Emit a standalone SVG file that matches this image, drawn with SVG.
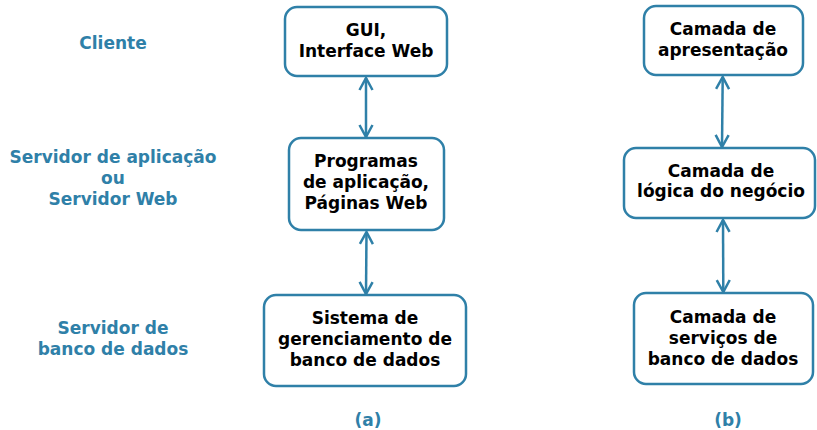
<svg xmlns="http://www.w3.org/2000/svg" width="817" height="430" viewBox="0 0 817 430">
<defs>
<style>
.box{fill:#fff;stroke:#2f80a8;stroke-width:2.5}
.t{font-family:"DejaVu Sans",sans-serif;font-weight:bold;font-size:17px;fill:#000;text-anchor:middle}
.lbl{font-family:"DejaVu Sans",sans-serif;font-weight:bold;font-size:17px;fill:#2f80a8;text-anchor:middle}
.c{stroke:#2f80a8;stroke-width:2.5;fill:none}
</style>
<marker id="ah" viewBox="0 0 14 16" refX="13" refY="8" markerWidth="14" markerHeight="16" markerUnits="userSpaceOnUse" orient="auto-start-reverse">
<path d="M1,1.5 L13,8 L1,14.5" fill="none" stroke="#2f80a8" stroke-width="2.5"/>
</marker>
</defs>
<rect width="817" height="430" fill="#fff"/>
<g id="labels">
<text class="lbl" x="113" y="49">Cliente</text>
<text class="lbl" x="113" y="163">Servidor de aplicação</text>
<text class="lbl" x="113" y="184">ou</text>
<text class="lbl" x="113" y="205">Servidor Web</text>
<text class="lbl" x="113" y="334">Servidor de</text>
<text class="lbl" x="113" y="355">banco de dados</text>
<text class="lbl" x="368" y="426">(a)</text>
<text class="lbl" x="728" y="426">(b)</text>
</g>
<g id="connectors">
<line class="c" x1="366" y1="78" x2="366" y2="137" marker-start="url(#ah)" marker-end="url(#ah)"/>
<line class="c" x1="366.5" y1="232" x2="366" y2="294" marker-start="url(#ah)" marker-end="url(#ah)"/>
<line class="c" x1="722.7" y1="77" x2="722" y2="147" marker-start="url(#ah)" marker-end="url(#ah)"/>
<line class="c" x1="723" y1="220" x2="723.3" y2="292" marker-start="url(#ah)" marker-end="url(#ah)"/>
</g>
<g id="gui">
<rect class="box" x="285" y="7" width="162" height="69" rx="12"/>
<text class="t" x="366" y="36">GUI,</text>
<text class="t" x="366" y="57">Interface Web</text>
</g>
<g id="programas">
<rect class="box" x="289" y="138" width="155" height="92" rx="12"/>
<text class="t" x="366" y="167">Programas</text>
<text class="t" x="366" y="188">de aplicação,</text>
<text class="t" x="366" y="209">Páginas Web</text>
</g>
<g id="sgbd">
<rect class="box" x="264" y="295" width="202" height="91" rx="12"/>
<text class="t" x="365" y="324">Sistema de</text>
<text class="t" x="365" y="345">gerenciamento de</text>
<text class="t" x="365" y="366">banco de dados</text>
</g>
<g id="apresentacao">
<rect class="box" x="644" y="6" width="159" height="69" rx="12"/>
<text class="t" x="723" y="35">Camada de</text>
<text class="t" x="723" y="56">apresentação</text>
</g>
<g id="negocio">
<rect class="box" x="624" y="148" width="191" height="70" rx="12"/>
<text class="t" x="721" y="177">Camada de</text>
<text class="t" x="721" y="197">lógica do negócio</text>
</g>
<g id="servicos">
<rect class="box" x="634" y="293" width="179" height="91" rx="12"/>
<text class="t" x="723" y="323">Camada de</text>
<text class="t" x="723" y="344">serviços de</text>
<text class="t" x="723" y="365">banco de dados</text>
</g>
</svg>
